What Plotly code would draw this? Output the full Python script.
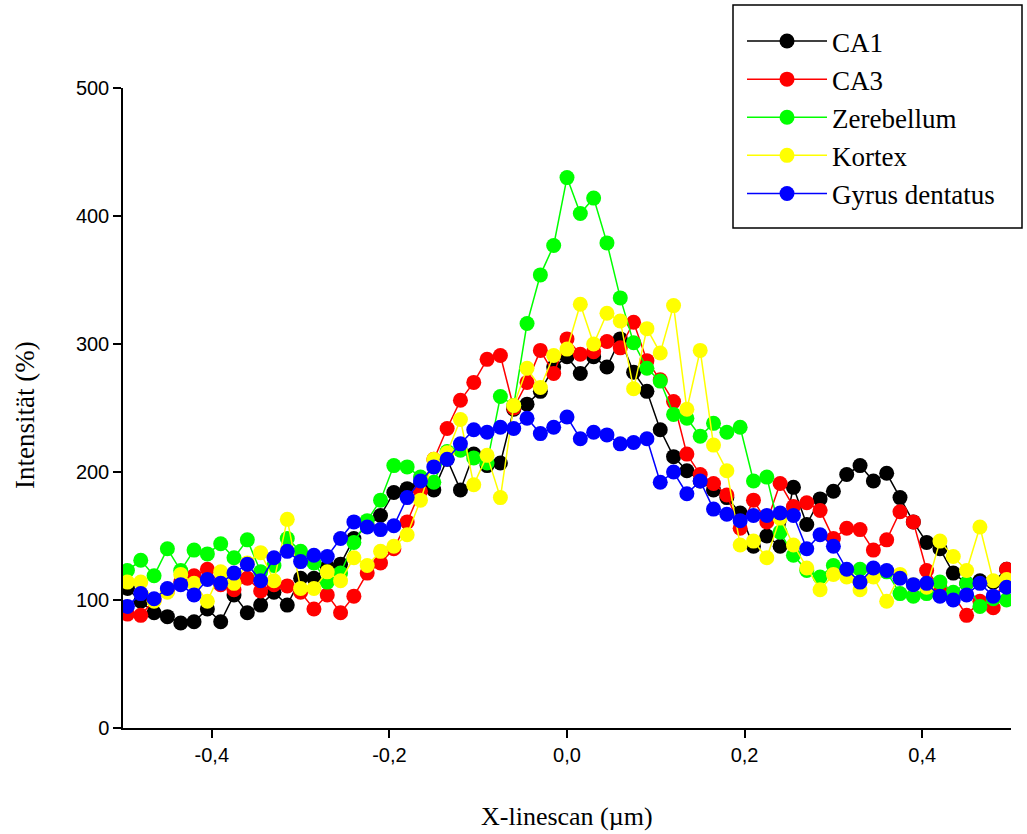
import numpy as np
import plotly.graph_objects as go

# x positions: step 0.015 µm from -0.495 to 0.495 (67 points)
x_um = [round(k * 0.015, 3) for k in range(-33, 34)]

ca1 = [109, 99, 90, 87, 82, 83, 93, 83, 104, 90, 96, 106, 96, 117, 117, 126, 128, 148, 158, 166,
       184, 187, 190, 186, 210, 186, 214, 205, 207, 249, 253, 263, 282, 290, 277, 290, 282, 304,
       278, 263, 233, 212, 201, 193, 186, 180, 168, 142, 150, 142, 188, 159, 179, 185, 198, 205,
       193, 199, 180, 161, 145, 140, 121, 113, 115, 114, 124]
ca3 = [89, 88, 100, 107, 114, 119, 124, 112, 108, 117, 107, 112, 111, 106, 93, 104, 90, 103, 121, 129,
       140, 161, 185, 210, 234, 256, 270, 288, 291, 250, 270, 295, 277, 304, 292, 294, 302, 297,
       317, 287, 272, 255, 214, 198, 191, 182, 156, 178, 161, 191, 173, 176, 170, 148, 156, 155,
       139, 147, 169, 161, 123, 110, 104, 88, 99, 94, 124]
zerebellum = [123, 131, 119, 140, 123, 139, 136, 144, 133, 147, 122, 127, 148, 138, 129, 114, 121, 145,
              162, 178, 205, 204, 196, 192, 216, 217, 211, 207, 259, 252, 316, 354, 377, 430, 402,
              414, 379, 336, 301, 281, 271, 245, 242, 228, 238, 231, 235, 193, 196, 153, 135, 123,
              118, 127, 123, 124, 124, 122, 105, 103, 105, 114, 106, 113, 95, 101, 100]
kortex = [114, 114, 99, 106, 120, 113, 99, 122, 113, 129, 137, 115, 163, 109, 109, 122, 115, 133, 127,
          138, 142, 151, 178, 210, 215, 241, 190, 213, 180, 252, 281, 266, 291, 296, 331, 300, 324,
          318, 265, 312, 293, 330, 249, 295, 221, 201, 143, 146, 133, 164, 143, 125, 108, 120, 118,
          108, 118, 99, 120, 112, 110, 146, 134, 123, 157, 115, 116]
gyrus = [95, 105, 101, 109, 112, 104, 116, 113, 121, 128, 115, 133, 138, 130, 135, 134, 148, 161, 157,
         155, 158, 180, 193, 204, 210, 222, 233, 231, 235, 234, 242, 230, 235, 243, 226, 231, 229,
         222, 223, 226, 192, 200, 183, 193, 171, 167, 162, 166, 166, 168, 166, 140, 151, 142, 124,
         114, 125, 123, 117, 112, 113, 103, 100, 104, 113, 103, 110]

series_names = ["CA1", "CA3", "Zerebellum", "Kortex", "Gyrus dentatus"]
series_values = [ca1, ca3, zerebellum, kortex, gyrus]
series_colors = ["#000000", "#FF0000", "#00FF00", "#FFFF00", "#0000FF"]

x_tick_vals = [-0.4, -0.2, 0.0, 0.2, 0.4]
x_tick_text = ["-0,4", "-0,2", "0,0", "0,2", "0,4"]
y_tick_vals = [0, 100, 200, 300, 400, 500]

fig = go.Figure()
for name, vals, col in zip(series_names, series_values, series_colors):
    fig.add_trace(go.Scatter(
        x=x_um, y=vals, name=name, mode="lines+markers",
        line=dict(color=col, width=1.5),
        marker=dict(color=col, size=15, line=dict(width=0)),
    ))

serif = "Liberation Serif"
sans = "Liberation Sans"

L, R, T, B = 123, 16, 88, 106
PW, PH = 1027 - L - R, 834 - T - B


def px_x(p):
    return (p - L) / PW


def px_y(p):
    return (834 - B - p) / PH


fig.update_layout(
    width=1027, height=834,
    margin=dict(l=L, r=R, t=T, b=B, autoexpand=False),
    paper_bgcolor="white", plot_bgcolor="white",
    showlegend=True,
    legend=dict(
        x=px_x(733), y=px_y(17), xanchor="left", yanchor="top",
        borderwidth=0, bgcolor="rgba(0,0,0,0)",
        font=dict(family=serif, size=27, color="black"),
        itemwidth=80, indentation=9, tracegroupgap=0,
    ),
    shapes=[dict(type="rect", xref="paper", yref="paper",
                 x0=px_x(733), x1=px_x(1022), y0=px_y(228), y1=px_y(5),
                 line=dict(color="black", width=1.5), fillcolor="rgba(0,0,0,0)", layer="above")],
    xaxis=dict(
        range=[-0.5, 0.5], tickvals=x_tick_vals, ticktext=x_tick_text,
        showline=True, linecolor="black", linewidth=1.5,
        ticks="outside", ticklen=8, tickwidth=1.5, tickcolor="black",
        showgrid=False, zeroline=False,
        tickfont=dict(family=sans, size=20, color="black"),
    ),
    yaxis=dict(
        range=[0, 500], tickvals=y_tick_vals,
        showline=True, linecolor="black", linewidth=1.5,
        ticks="outside", ticklen=8, tickwidth=1.5, tickcolor="black",
        showgrid=False, zeroline=False,
        tickfont=dict(family=sans, size=20, color="black"),
    ),
    annotations=[
        dict(text="X-linescan (µm)", xref="paper", yref="paper",
             x=0.5, y=px_y(816), xanchor="center", yanchor="middle",
             showarrow=False, font=dict(family=serif, size=26, color="black")),
        dict(text="Intensität (%)", xref="paper", yref="paper",
             x=px_x(25), y=px_y(415), xanchor="center", yanchor="middle",
             textangle=-90, showarrow=False, font=dict(family=serif, size=27, color="black")),
    ],
)

fig.write_html("out.html")
